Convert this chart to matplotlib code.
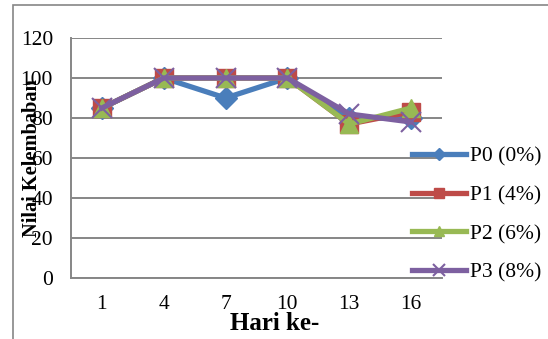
import matplotlib.pyplot as plt
from matplotlib.patches import Rectangle

plt.rcParams['font.family'] = ['Liberation Serif', 'DejaVu Serif']

hari = ['1', '4', '7', '10', '13', '16']
p0 = [85, 100, 90, 100, 80, 80]
p1 = [85, 100, 100, 100, 77, 83]
p2 = [85, 100, 100, 100, 77, 85]
p3 = [85, 100, 100, 100, 82, 78]

labels = ['P0 (0%)', 'P1 (4%)', 'P2 (6%)', 'P3 (8%)']
colors = ['#4a7ebb', '#be4b48', '#98b954', '#7d60a0']
markers = ['D', 's', '^', 'x']
sizes = [11, 13, 13, 14]

fig = plt.figure(figsize=(5.48, 3.39), dpi=100)
ax = fig.add_axes([71 / 548, 1 - 278 / 339, (442 - 71) / 548, 240 / 339])

# gray frame around the whole chart
fig.patches.append(Rectangle((13 / 548, -0.1), 1.2, 1 - 5 / 339 + 0.1,
                             transform=fig.transFigure, fill=False,
                             edgecolor='#868686', linewidth=1.2))

x = range(len(hari))
for vals, lab, c, m, s in zip([p0, p1, p2, p3], labels, colors, markers, sizes):
    ax.plot(x, vals, color=c, linewidth=3.8, marker=m, markersize=s,
            markeredgewidth=1.5 if m == 'x' else 1, markeredgecolor=c, label=lab)

ax.set_xlim(-0.5, len(hari) - 0.5)
ax.set_ylim(0, 120)
ax.set_yticks(range(0, 121, 20))
ax.set_xticks(list(x))
ax.set_xticklabels(hari)
ax.tick_params(length=0, labelsize=15.5, colors='black', pad=13)
ax.tick_params(axis='x', pad=12)
ax.grid(axis='y', color='#868686', linewidth=1.4)
ax.set_axisbelow(True)
for side in ['top', 'right']:
    ax.spines[side].set_visible(False)
for side in ['left', 'bottom']:
    ax.spines[side].set_color('#868686')
    ax.spines[side].set_linewidth(1.4)

fig.text(32 / 548, 1 - 158 / 339, 'Nilai Kelembaban', rotation=90, ha='center',
         va='center', fontsize=14.7, fontweight='bold')
fig.text(275 / 548, 1 - 323 / 339, 'Hari ke-', ha='center', va='center',
         fontsize=18, fontweight='bold')

fig.legend(loc='upper left', bbox_to_anchor=(401 / 548, 1 - 136 / 339),
           frameon=False, fontsize=15.5, handlelength=2.5, handletextpad=0.2,
           labelspacing=0.86, markerscale=0.6, borderpad=0)

fig.savefig('out.png', dpi=100)
